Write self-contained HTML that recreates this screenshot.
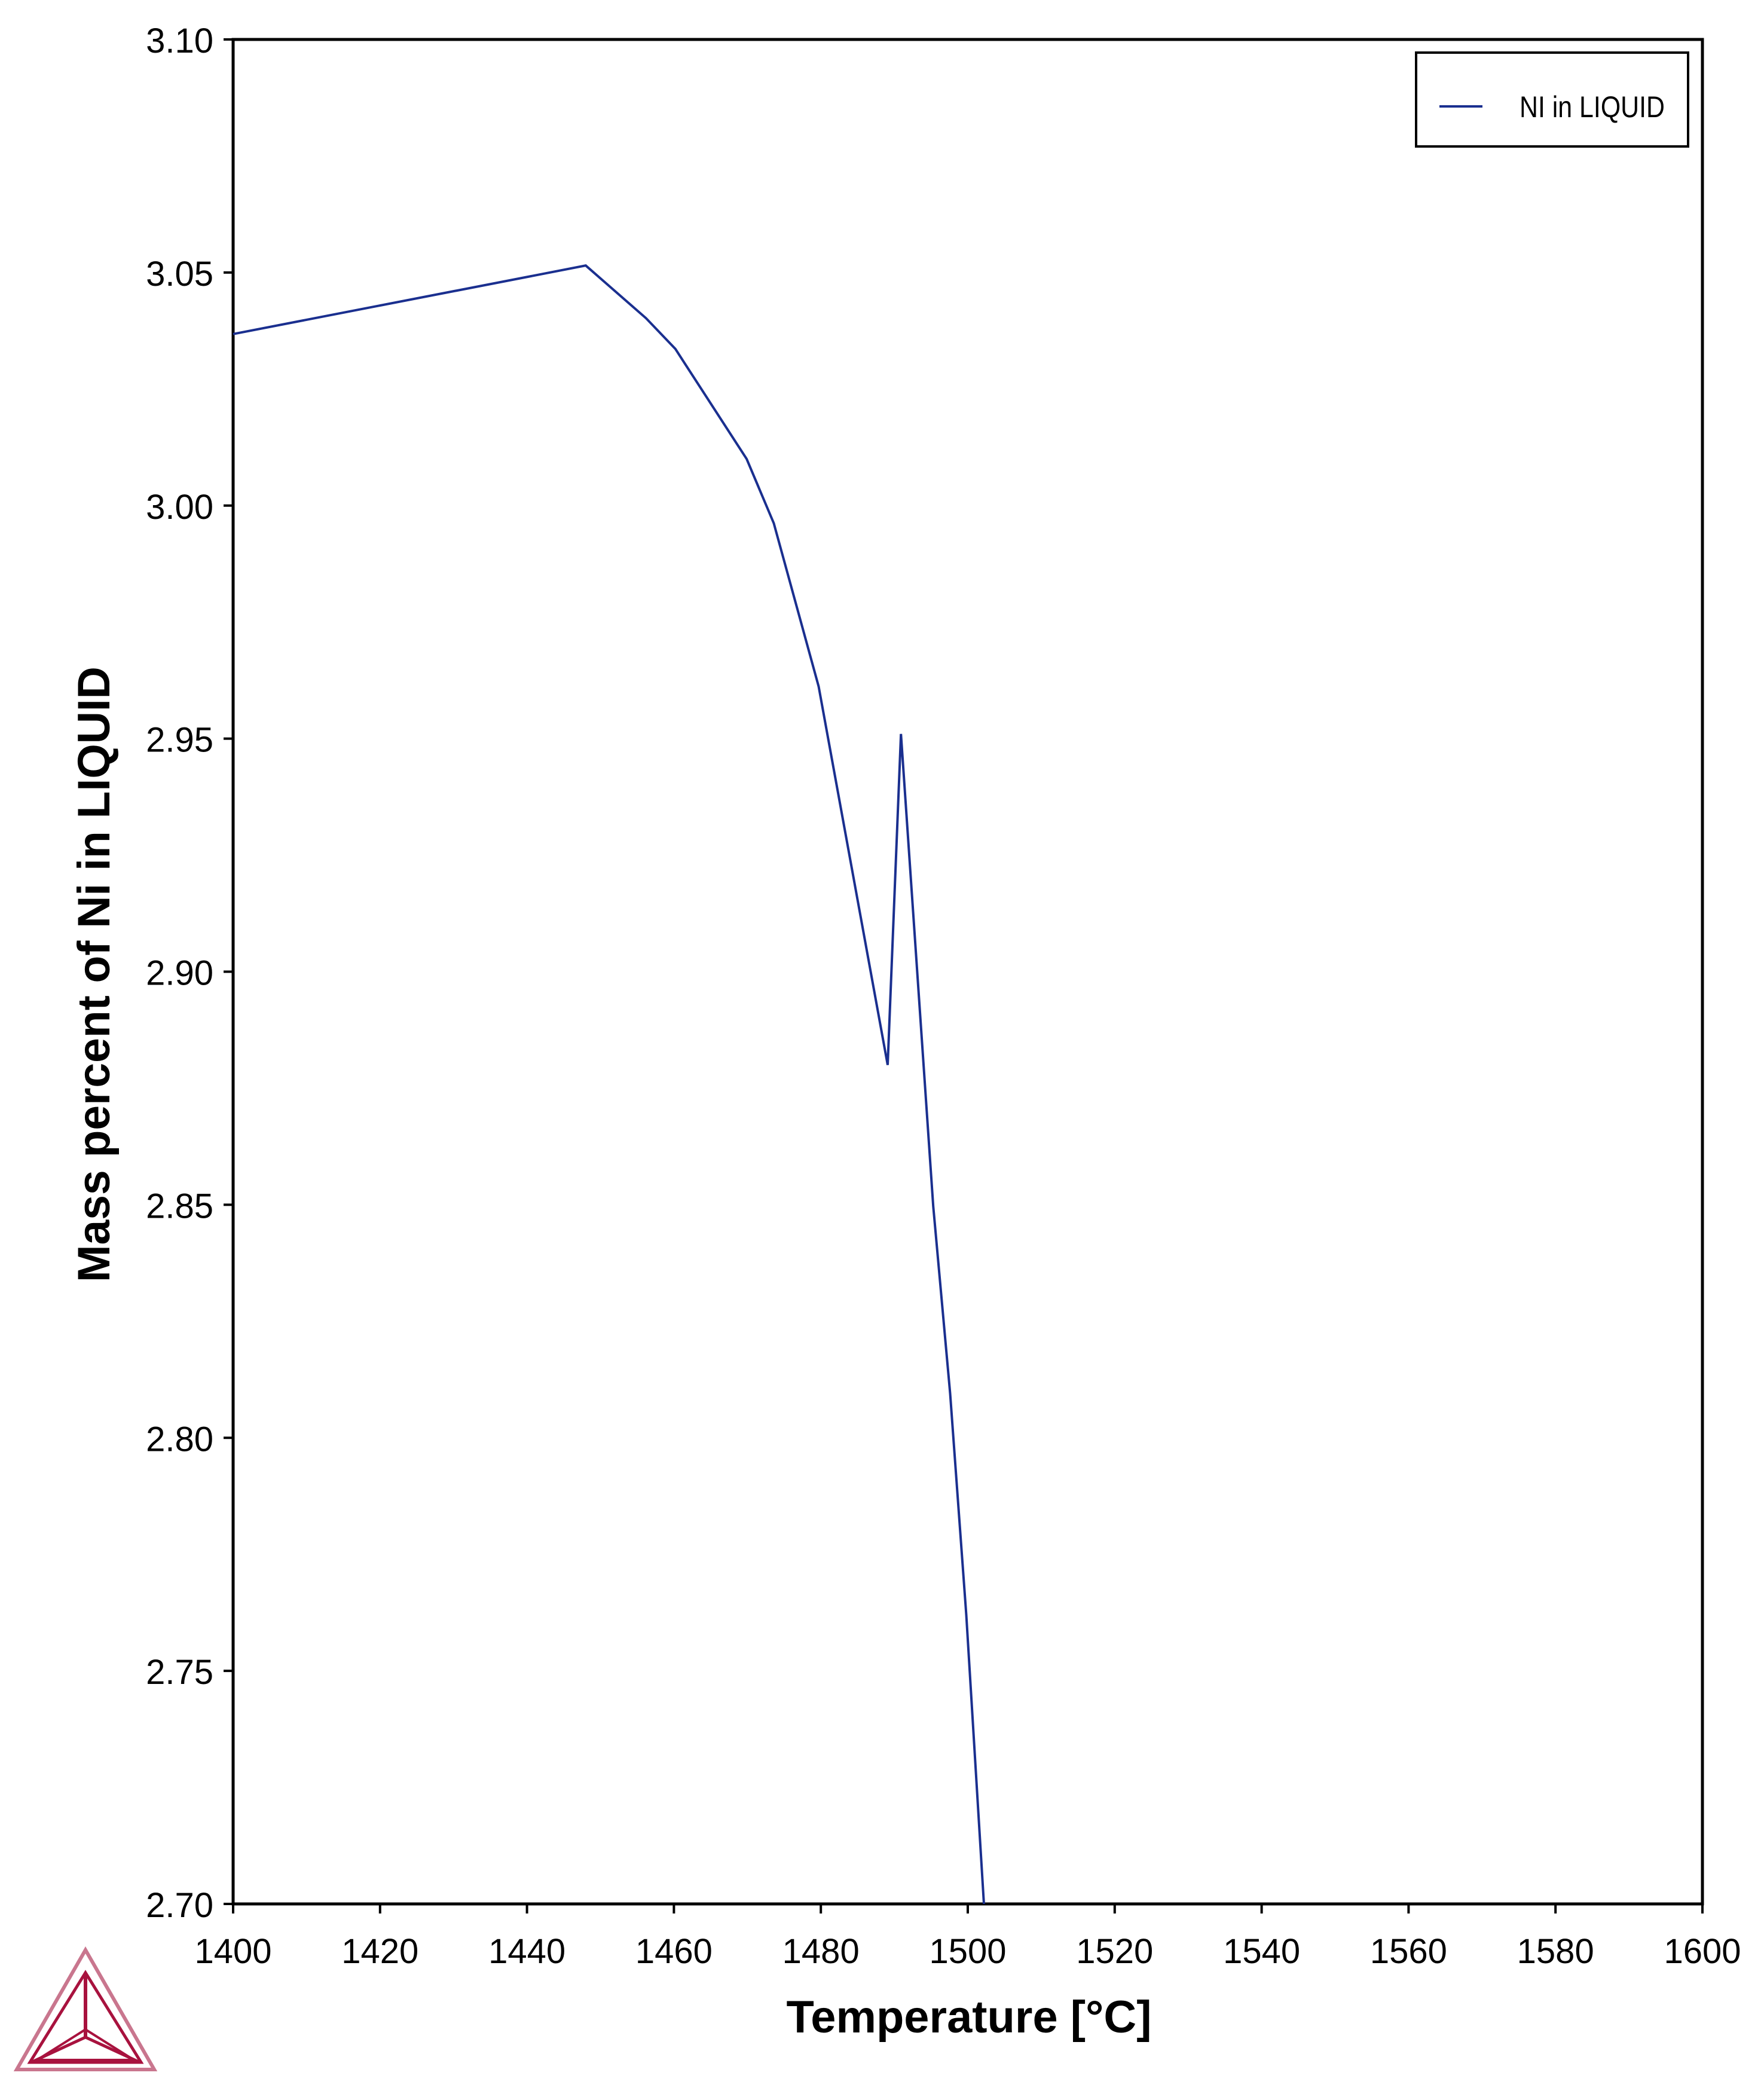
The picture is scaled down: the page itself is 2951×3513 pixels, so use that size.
<!DOCTYPE html>
<html><head><meta charset="utf-8">
<style>
html,body{margin:0;padding:0;background:#fff;}
svg{display:block;}
text{font-family:"Liberation Sans",Arial,sans-serif;}
</style></head>
<body>
<svg id="chart" width="2951" height="3513" viewBox="0 0 2951 3513" xmlns="http://www.w3.org/2000/svg">
<rect x="0" y="0" width="2951" height="3513" fill="#fff"/>
<g id="axes"></g>
<g id="series"></g>
<text x="0" y="0" transform="translate(183,1630) rotate(-90)" text-anchor="middle" font-size="76" font-weight="bold" textLength="1030" lengthAdjust="spacingAndGlyphs">Mass percent of Ni in LIQUID</text>
<text x="1621" y="3400" text-anchor="middle" font-size="76" font-weight="bold" textLength="611" lengthAdjust="spacingAndGlyphs">Temperature [°C]</text>
<g>
  <rect x="2369" y="88" width="455" height="157" fill="#fff" stroke="#000" stroke-width="4"/>
  <line x1="2408" y1="178" x2="2480" y2="178" stroke="#1a2f8f" stroke-width="4"/>
  <text x="2542" y="196" font-size="50" textLength="243" lengthAdjust="spacingAndGlyphs">NI in LIQUID</text>
</g>
<g fill="none" stroke="#a8123e">
  <polygon points="143,3262 28,3462 258,3462" stroke-width="6" stroke="#c9768e"/>
  <polygon points="143,3300 50,3450 236,3450" stroke-width="5"/>
  <line x1="143" y1="3300" x2="143" y2="3408" stroke-width="6"/>
  <line x1="143" y1="3408" x2="52" y2="3450" stroke-width="5"/>
  <line x1="143" y1="3408" x2="234" y2="3450" stroke-width="5"/>
  <polygon points="143,3395 62,3446 224,3446" stroke-width="4"/>
</g>
</svg>
<script>
const xTicks = [1400,1420,1440,1460,1480,1500,1520,1540,1560,1580,1600];
const yTicks = [2.70,2.75,2.80,2.85,2.90,2.95,3.00,3.05,3.10];
const temps = [1400,1448.0,1456.2,1460.2,1469.9,1473.6,1479.7,1489.1,1490.9,1495.3,1497.6,1499.8,1502.2];
const niValues = [3.0368,3.0515,3.0402,3.0336,3.0100,2.9962,2.9612,2.8800,2.9510,2.8497,2.8095,2.7620,2.7000];

const L=390,R=2848,T=66,B=3185;
const xMin=1400,xMax=1600,yMin=2.70,yMax=3.10;
function sx(v){return L+(v-xMin)/(xMax-xMin)*(R-L);}
function sy(v){return B-(v-yMin)/(yMax-yMin)*(B-T);}
const NS="http://www.w3.org/2000/svg";
const axes=document.getElementById('axes');
const series=document.getElementById('series');
function mk(tag,attrs,parent){const e=document.createElementNS(NS,tag);for(const k in attrs)e.setAttribute(k,attrs[k]);parent.appendChild(e);return e;}

const frame=mk('rect',{x:L,y:T,width:R-L,height:B-T,fill:'none',stroke:'#000','stroke-width':5},axes);



xTicks.forEach(function(t){
  const tk=mk('line',{x1:sx(t),y1:B,x2:sx(t),y2:B+16,stroke:'#000','stroke-width':4},axes);
  
  
  const lb=mk('text',{x:sx(t),y:B+99,'text-anchor':'middle','font-size':58},axes);
  
  
  lb.textContent=String(t);
});
yTicks.forEach(function(t){
  const tk=mk('line',{x1:L-16,y1:sy(t),x2:L,y2:sy(t),stroke:'#000','stroke-width':4},axes);
  
  
  const lb=mk('text',{x:L-33,y:sy(t)+22,'text-anchor':'end','font-size':58},axes);
  
  
  lb.textContent=t.toFixed(2);
});

const pts=temps.map(function(t,i){return sx(t).toFixed(1)+','+sy(niValues[i]).toFixed(1);}).join(' ');
const line=mk('polyline',{points:pts,fill:'none',stroke:'#1a2f8f','stroke-width':4,'stroke-linejoin':'miter'},series);


</script>
</body></html>
